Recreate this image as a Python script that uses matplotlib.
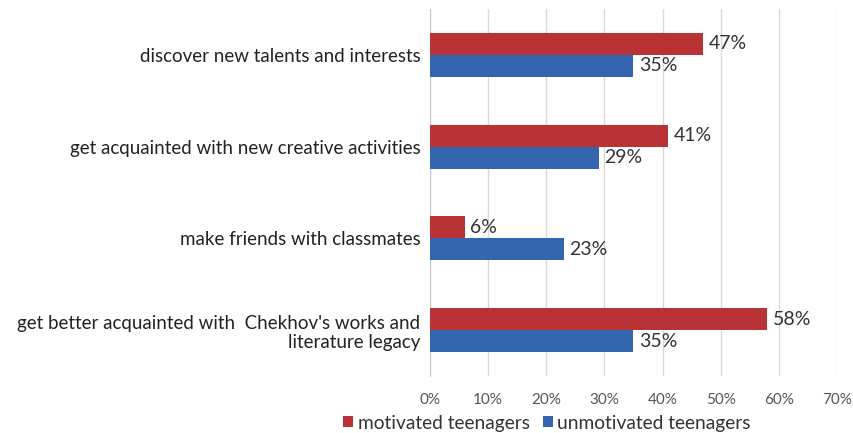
import matplotlib.pyplot as plt
import numpy as np

plt.rcParams['font.family'] = ['Lato', 'DejaVu Sans']

categories = [
    "discover new talents and interests",
    "get acquainted with new creative activities",
    "make friends with classmates",
    "get better acquainted with  Chekhov's works and\nliterature legacy",
]
motivated = [47, 41, 6, 58]
unmotivated = [35, 29, 23, 35]
series_names = ["motivated teenagers", "unmotivated teenagers"]
xticks = [0, 10, 20, 30, 40, 50, 60, 70]

red = "#B83236"
blue = "#3466AF"

fig = plt.figure(figsize=(8.54, 4.33), dpi=100)
ax = fig.add_axes([430 / 854, 1 - 376 / 433, (837 - 430) / 854, (376 - 9) / 433])

y = np.arange(len(categories))
h = 0.24
b1 = ax.barh(y - h / 2, motivated, height=h, color=red, label=series_names[0], zorder=3)
b2 = ax.barh(y + h / 2, unmotivated, height=h, color=blue, label=series_names[1], zorder=3)

for bars, vals in ((b1, motivated), (b2, unmotivated)):
    for bar, v in zip(bars, vals):
        ax.text(v + 0.9, bar.get_y() + bar.get_height() / 2, f"{v}%",
                va="center", ha="left", fontsize=14, color="#333333")

ax.set_ylim(len(categories) - 0.5, -0.5)
ax.set_xlim(0, 70)
ax.set_yticks(y)
ax.set_yticklabels(categories, fontsize=13.5, color="#222222", ha="right",
                   linespacing=1.15)
for lbl in ax.get_yticklabels():
    lbl.set_multialignment("right")
ax.set_xticks(xticks)
ax.set_xticklabels([f"{t}%" for t in xticks], fontsize=11, color="#555555")
ax.tick_params(axis="y", length=0, pad=7)
ax.tick_params(axis="x", length=0, pad=12)

ax.grid(axis="x", color="#D9D9D9", linewidth=1, zorder=0)
for s in ["top", "right", "bottom"]:
    ax.spines[s].set_visible(False)
ax.spines["left"].set_color("#C8C8C8")

fig.legend(loc="center", bbox_to_anchor=(547 / 854, 1 - 423 / 433), ncol=2,
           frameon=False, fontsize=13.8, handlelength=0.5, handleheight=0.5,
           handletextpad=0.25, columnspacing=0.7, labelcolor="#333333")

fig.savefig("out.png", dpi=100)
plt.close(fig)
